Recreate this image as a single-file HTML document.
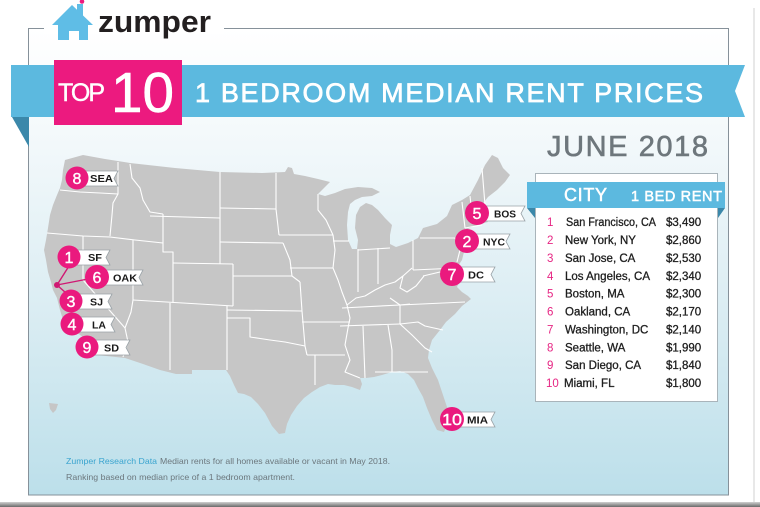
<!DOCTYPE html>
<html><head><meta charset="utf-8"><style>
html,body{margin:0;padding:0;background:#fff;}
svg{display:block;}
text{font-family:"Liberation Sans",sans-serif;}
</style></head><body>
<svg width="760" height="507" viewBox="0 0 760 507" xmlns="http://www.w3.org/2000/svg">
<defs>
<linearGradient id="bg" x1="0" y1="0" x2="0" y2="1">
<stop offset="0" stop-color="#ffffff"/>
<stop offset="0.22" stop-color="#f4f9fb"/>
<stop offset="0.6" stop-color="#dbedf3"/>
<stop offset="1" stop-color="#bcdfea"/>
</linearGradient>
<linearGradient id="sh" x1="0" y1="0" x2="0" y2="1"><stop offset="0" stop-color="#d0d0d0"/><stop offset="1" stop-color="#6a6a6a"/></linearGradient>
</defs>
<rect width="760" height="507" fill="#fff"/>
<rect x="753" y="8" width="2" height="494" fill="#e8e8e8"/>
<rect x="0" y="502" width="760" height="5" fill="url(#sh)"/>

<!-- panel -->
<rect x="28.5" y="28.5" width="700" height="466.5" fill="url(#bg)" stroke="#86919a" stroke-width="1"/>
<rect x="44" y="18" width="180" height="16" fill="#fff"/>

<!-- logo -->
<polygon points="52,25 72,5 93,25" fill="#5fbde6"/>
<rect x="77" y="4" width="6" height="12" fill="#5fbde6"/>
<rect x="58" y="24" width="30" height="16" fill="#5fbde6"/>
<rect x="69" y="31" width="10" height="9" fill="#fff"/>
<circle cx="82" cy="1.5" r="2.3" fill="#ec1a7f"/>
<text x="98" y="32" font-size="31" font-weight="bold" fill="#231f20" textLength="113" lengthAdjust="spacingAndGlyphs">zumper</text>

<!-- ribbon -->
<rect x="11" y="65" width="44" height="52" fill="#5cb9df"/>
<polygon points="12,117 29,117 29,147" fill="#3b88aa"/>
<polygon points="182,65 745,65 735,91 745,117 182,117" fill="#5cb9df"/>
<rect x="54" y="60" width="128" height="65" fill="#ec1a7f"/>
<text x="58" y="101" font-size="25" fill="#fff" stroke="#fff" stroke-width="0.4" textLength="47" lengthAdjust="spacing">TOP</text>
<text x="111" y="112" font-size="57" fill="#fff" stroke="#fff" stroke-width="0.6" textLength="63" lengthAdjust="spacingAndGlyphs">10</text>
<text x="195" y="102" font-size="27" fill="#fff" stroke="#fff" stroke-width="0.7" textLength="508" lengthAdjust="spacing">1 BEDROOM MEDIAN RENT PRICES</text>

<text x="547" y="156" font-size="29" fill="#6e777c" stroke="#6e777c" stroke-width="0.6" textLength="161" lengthAdjust="spacing">JUNE 2018</text>

<!-- map -->
<path fill="#c6c6c6" d="M65,160 L83,155 L105,159 L130,163 L175,168 L220,172 L262,173 L285,172 L288,167 L292,168 L294,174 L305,176 L318,179 L330,182 L322,190 L318,194 L325,196 L335,193 L345,189 L358,187 L372,188 L380,192 L372,196 L362,197 L355,200 L350,204 L348,212 L347,225 L348,240 L352,249 L357,249 L358,240 L355,228 L356,215 L360,207 L366,203 L372,205 L378,210 L385,218 L392,225 L390,235 L390,244 L396,247 L408,243 L418,238 L423,228 L437,224 L447,216 L452,205 L462,200 L470,195 L478,180 L485,165 L492,155 L498,158 L503,168 L510,175 L505,182 L497,190 L488,197 L482,205 L480,212 L485,218 L488,222 L480,224 L470,228 L462,232 L470,234 L463,238 L465,248 L462,260 L458,266 L455,263 L457,272 L460,280 L457,287 L462,292 L468,296 L471,299 L462,306 L455,314 L446,322 L440,330 L432,340 L429,350 L428,358 L432,368 L438,380 L443,395 L448,410 L448,422 L444,432 L437,430 L432,420 L427,408 L423,397 L418,388 L414,380 L408,374 L400,371 L392,372 L382,375 L374,377 L366,378 L360,378 L362,384 L360,390 L352,387 L344,385 L335,385 L328,384 L320,387 L312,392 L304,398 L297,406 L291,415 L287,424 L285,433 L279,434 L272,426 L265,413 L258,404 L251,397 L244,394 L238,393 L234,385 L230,376 L226,370 L200,370 L192,370 L192,374 L176,374 L160,370 L143,364 L125,358 L97,355 L93,348 L84,338 L75,331 L68,326 L63,320 L60,310 L57,298 L53,290 L51,282 L48,272 L46,260 L44,250 L46,240 L48,228 L50,215 L53,205 L57,195 L60,188 L62,180 L63,170 Z"/>
<path fill="#c6c6c6" d="M49,403 L58,404 L56,410 L53,413 L50,409 Z"/>
<g fill="none" stroke="#fff" stroke-width="1.1" stroke-linejoin="round">
<path d="M60,190 L80,192 L100,193 L118,194"/>
<path d="M118,162 L118,194 L113,203 L112,215 L110,236"/>
<path d="M47,233 L83,236 L110,237 L135,240 L163,243"/>
<path d="M83,236 L83,280 L125,328"/>
<path d="M133,240 L133,300"/>
<path d="M133,300 L131,312 L125,328 L128,342 L123,357"/>
<path d="M130,164 L132,178 L140,188 L143,200 L150,212 L163,214"/>
<path d="M163,214 L163,252 L173,252 L173,303"/>
<path d="M150,216 L220,218"/>
<path d="M173,263 L233,264"/>
<path d="M220,172 L220,264"/>
<path d="M220,208 L276,209"/>
<path d="M220,242 L283,243"/>
<path d="M276,173 L276,209 L279,235"/>
<path d="M279,235 L333,235"/>
<path d="M233,276 L292,276"/>
<path d="M283,243 L290,260 L292,276 L300,282"/>
<path d="M233,264 L233,306"/>
<path d="M133,300 L233,306"/>
<path d="M170,303 L170,370"/>
<path d="M227,310 L302,311"/>
<path d="M300,282 L302,311"/>
<path d="M227,306 L227,370"/>
<path d="M227,318 L250,318 L250,337 L270,340 L285,342 L305,346"/>
<path d="M302,311 L305,346 L307,355"/>
<path d="M307,355 L345,355"/>
<path d="M315,355 L315,385"/>
<path d="M302,322 L350,322"/>
<path d="M290,268 L333,268"/>
<path d="M333,235 L335,250 L333,268"/>
<path d="M318,194 L318,210 L326,220 L333,235"/>
<path d="M333,241 L349,241"/>
<path d="M333,268 L338,280 L342,292 L347,305 L350,318 L348,328 L345,345 L350,360 L345,372 L360,378"/>
<path d="M358,249 L358,292"/>
<path d="M378,248 L378,284"/>
<path d="M347,305 L356,298 L365,296 L375,290 L385,285 L395,282 L403,276 L412,268"/>
<path d="M358,250 L390,248"/>
<path d="M413,240 L413,270"/>
<path d="M403,276 L400,288 L407,292 L416,286 L424,276"/>
<path d="M342,308 L400,305 L410,304"/>
<path d="M400,305 L465,302"/>
<path d="M390,298 L400,305"/>
<path d="M340,326 L400,324"/>
<path d="M363,326 L365,378"/>
<path d="M388,325 L392,350 L392,372"/>
<path d="M375,372 L392,372 L428,372"/>
<path d="M400,324 L418,322 L425,326 L443,330"/>
<path d="M400,324 L412,335 L425,348 L432,352"/>
<path d="M400,305 L400,324"/>
<path d="M420,238 L455,238"/>
<path d="M413,270 L458,268"/>
<path d="M455,238 L460,250 L457,262"/>
<path d="M423,276 L440,272 L450,282"/>
<path d="M462,202 L465,228"/>
<path d="M470,196 L472,215"/>
<path d="M482,168 L485,205"/>
<path d="M465,228 L482,225"/>
<path d="M465,215 L484,212"/>
</g>

<!-- SF area lines -->
<g stroke="#d01873" stroke-width="1.4" fill="none">
<path d="M69,266 L57,285"/>
<path d="M57,285 L88,279"/>
<path d="M57,285 L66,293"/>
</g>
<circle cx="57" cy="285" r="3" fill="#d01873"/>

<!-- labels -->
<g stroke="#9aa3a8" stroke-width="0.8" fill="#fff">
<polygon points="84,171 118,171 114,178.5 118,186 84,186"/>
<polygon points="76,250 110,250 106,257.5 110,265 76,265"/>
<polygon points="104,270 143,270 139,277.5 143,285 104,285"/>
<polygon points="78,294 112,294 108,301.5 112,309 78,309"/>
<polygon points="79,317 115,317 111,324.5 115,332 79,332"/>
<polygon points="94,340 130,340 126,347.5 130,355 94,355"/>
<polygon points="484,206 525,206 521,213.5 525,221 484,221"/>
<polygon points="474,234 510,234 506,241.5 510,249 474,249"/>
<polygon points="459,267 495,267 491,274.5 495,282 459,282"/>
<polygon points="460,412 495,412 491,419.5 495,427 460,427"/>
</g>
<g fill="#ea1a7e">
<circle cx="77" cy="178" r="11.5"/>
<circle cx="69" cy="257" r="11.5"/>
<circle cx="97" cy="277" r="12"/>
<circle cx="71" cy="301" r="11.5"/>
<circle cx="72" cy="324" r="11.5"/>
<circle cx="87" cy="347" r="11.5"/>
<circle cx="477" cy="213" r="12"/>
<circle cx="467" cy="241" r="12"/>
<circle cx="452" cy="274" r="12"/>
<circle cx="452" cy="419" r="12"/>
</g>
<g fill="#fff" font-size="16" text-anchor="middle" stroke="#fff" stroke-width="0.4">
<text x="77" y="184">8</text>
<text x="69" y="263">1</text>
<text x="97" y="283">6</text>
<text x="71" y="307">3</text>
<text x="72" y="330">4</text>
<text x="87" y="353">9</text>
<text x="477" y="219">5</text>
<text x="467" y="247">2</text>
<text x="452" y="280">7</text>
<text x="452" y="425" textLength="20" lengthAdjust="spacingAndGlyphs">10</text>
</g>
<g fill="#1a1a1a" font-size="10.5" font-weight="bold">
<text x="90" y="182" textLength="23" lengthAdjust="spacingAndGlyphs">SEA</text>
<text x="88" y="261" textLength="14" lengthAdjust="spacingAndGlyphs">SF</text>
<text x="113" y="281.5" textLength="24" lengthAdjust="spacingAndGlyphs">OAK</text>
<text x="90" y="305.5" textLength="13" lengthAdjust="spacingAndGlyphs">SJ</text>
<text x="92" y="328.5" textLength="14" lengthAdjust="spacingAndGlyphs">LA</text>
<text x="104" y="351.5" textLength="15" lengthAdjust="spacingAndGlyphs">SD</text>
<text x="494" y="217.5" textLength="22" lengthAdjust="spacingAndGlyphs">BOS</text>
<text x="483" y="245.5" textLength="22" lengthAdjust="spacingAndGlyphs">NYC</text>
<text x="468" y="278.5" textLength="16" lengthAdjust="spacingAndGlyphs">DC</text>
<text x="467" y="423.5" textLength="21" lengthAdjust="spacingAndGlyphs">MIA</text>
</g>

<!-- table -->
<rect x="535.5" y="173.5" width="182" height="228" fill="#fff" stroke="#a9b4ba" stroke-width="1"/>
<rect x="527" y="182" width="198" height="26" fill="#5cb9df"/>
<polygon points="527,208 535,208 535,218" fill="#3b88aa"/>
<polygon points="718,208 725,208 718,218" fill="#3b88aa"/>
<text x="564" y="201" font-size="18" fill="#fff" stroke="#fff" stroke-width="0.5" textLength="43" lengthAdjust="spacing">CITY</text>
<text x="631" y="201" font-size="14.5" fill="#fff" stroke="#fff" stroke-width="0.5" textLength="91" lengthAdjust="spacing">1 BED RENT</text>
<g font-size="11.5" fill="#e62583">
<text x="547" y="226">1</text>
<text x="547" y="244">2</text>
<text x="547" y="262">3</text>
<text x="547" y="280">4</text>
<text x="547" y="297.5">5</text>
<text x="547" y="315.5">6</text>
<text x="547" y="333.5">7</text>
<text x="547" y="351.5">8</text>
<text x="547" y="369">9</text>
<text x="546" y="387">10</text>
</g>
<g font-size="11.5" fill="#1e1e1e" stroke="#1e1e1e" stroke-width="0.3">
<text x="566" y="226" textLength="90" lengthAdjust="spacingAndGlyphs">San Francisco, CA</text>
<text x="565" y="244">New York, NY</text>
<text x="565" y="262">San Jose, CA</text>
<text x="565" y="280">Los Angeles, CA</text>
<text x="565" y="297.5">Boston, MA</text>
<text x="565" y="315.5">Oakland, CA</text>
<text x="565" y="333.5">Washington, DC</text>
<text x="565" y="351.5">Seattle, WA</text>
<text x="565" y="369">San Diego, CA</text>
<text x="564" y="387">Miami, FL</text>
<text x="666" y="226">$3,490</text>
<text x="666" y="244">$2,860</text>
<text x="666" y="262">$2,530</text>
<text x="666" y="280">$2,340</text>
<text x="666" y="297.5">$2,300</text>
<text x="666" y="315.5">$2,170</text>
<text x="666" y="333.5">$2,140</text>
<text x="666" y="351.5">$1,990</text>
<text x="666" y="369">$1,840</text>
<text x="666" y="387">$1,800</text>
</g>

<!-- footer -->
<text x="66" y="464" font-size="8.5" fill="#3aa4cf" textLength="91" lengthAdjust="spacingAndGlyphs">Zumper Research Data</text>
<text x="160" y="464" font-size="8.5" fill="#6c777d" textLength="230" lengthAdjust="spacingAndGlyphs">Median rents for all homes available or vacant in May 2018.</text>
<text x="66" y="480" font-size="8.5" fill="#6c777d" textLength="229" lengthAdjust="spacingAndGlyphs">Ranking based on median price of a 1 bedroom apartment.</text>
</svg>
</body></html>
